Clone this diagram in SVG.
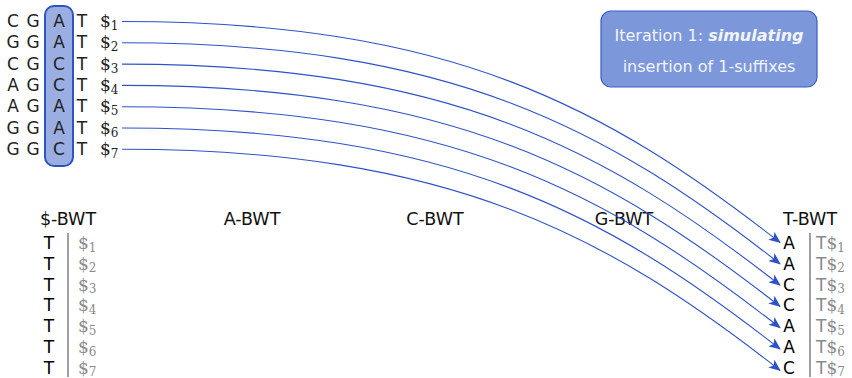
<svg xmlns="http://www.w3.org/2000/svg" width="852" height="378" viewBox="0 0 852 378">
  <style>
    .seq { font-family: "DejaVu Sans", "Liberation Sans", sans-serif; font-size: 17px; fill: #222; text-anchor: middle; }
    .dol { font-family: "DejaVu Serif", "Liberation Serif", serif; font-size: 17px; fill: #222; }
    .sub { font-size: 12px; }
    .hdr { font-family: "DejaVu Sans", "Liberation Sans", sans-serif; font-size: 17.5px; fill: #111; text-anchor: middle; }
    .bwt { font-family: "DejaVu Sans", "Liberation Sans", sans-serif; font-size: 17px; fill: #000; text-anchor: middle; }
    .suf { font-family: "DejaVu Serif", "Liberation Serif", serif; font-size: 17px; fill: #8a8a8a; }
    .sufT { font-family: "DejaVu Sans", "Liberation Sans", sans-serif; font-size: 17px; fill: #8a8a8a; }
    .bar { stroke: #888; stroke-width: 1.6; }
    .note { font-family: "DejaVu Sans", "Liberation Sans", sans-serif; font-size: 16px; fill: #f2f4fb; text-anchor: middle; }
    .conn path { fill: none; stroke: #2f52c8; stroke-width: 1.1; marker-end: url(#arr); }
  </style>
  <defs>
    <marker id="arr" viewBox="0 0 12 10" refX="11" refY="5" markerWidth="12" markerHeight="10" markerUnits="userSpaceOnUse" orient="auto">
      <path d="M0,0 L12,5 L0,10 L3,5 Z" fill="#2f52c8"/>
    </marker>
  </defs>

  <!-- highlighted column of characters being sorted -->
  <g id="column-highlight">
    <rect x="45" y="6" width="28" height="160" rx="9" fill="#9aaee2" stroke="#2c55c4" stroke-width="2"/>
  </g>

  <!-- reads with sentinel symbols -->
  <g id="reads">
    <g id="read1"><text class="seq" x="13" y="27">C</text><text class="seq" x="33" y="27">G</text><text class="seq" x="59" y="27">A</text><text class="seq" x="82" y="27">T</text><text class="dol" x="100" y="27">$<tspan class="sub" dy="3">1</tspan></text></g>
    <g id="read2"><text class="seq" x="13" y="48.3">G</text><text class="seq" x="33" y="48.3">G</text><text class="seq" x="59" y="48.3">A</text><text class="seq" x="82" y="48.3">T</text><text class="dol" x="100" y="48.3">$<tspan class="sub" dy="3">2</tspan></text></g>
    <g id="read3"><text class="seq" x="13" y="69.6">C</text><text class="seq" x="33" y="69.6">G</text><text class="seq" x="59" y="69.6">C</text><text class="seq" x="82" y="69.6">T</text><text class="dol" x="100" y="69.6">$<tspan class="sub" dy="3">3</tspan></text></g>
    <g id="read4"><text class="seq" x="13" y="90.9">A</text><text class="seq" x="33" y="90.9">G</text><text class="seq" x="59" y="90.9">C</text><text class="seq" x="82" y="90.9">T</text><text class="dol" x="100" y="90.9">$<tspan class="sub" dy="3">4</tspan></text></g>
    <g id="read5"><text class="seq" x="13" y="112.2">A</text><text class="seq" x="33" y="112.2">G</text><text class="seq" x="59" y="112.2">A</text><text class="seq" x="82" y="112.2">T</text><text class="dol" x="100" y="112.2">$<tspan class="sub" dy="3">5</tspan></text></g>
    <g id="read6"><text class="seq" x="13" y="133.5">G</text><text class="seq" x="33" y="133.5">G</text><text class="seq" x="59" y="133.5">A</text><text class="seq" x="82" y="133.5">T</text><text class="dol" x="100" y="133.5">$<tspan class="sub" dy="3">6</tspan></text></g>
    <g id="read7"><text class="seq" x="13" y="154.8">G</text><text class="seq" x="33" y="154.8">G</text><text class="seq" x="59" y="154.8">C</text><text class="seq" x="82" y="154.8">T</text><text class="dol" x="100" y="154.8">$<tspan class="sub" dy="3">7</tspan></text></g>
  </g>

  <!-- iteration note -->
  <g id="note">
    <rect x="601" y="11" width="216" height="76" rx="10" fill="#7d98da" stroke="#3a5cc6" stroke-width="1.2"/>
    <text class="note" x="709" y="41">Iteration 1: <tspan font-weight="bold" font-style="italic">simulating</tspan></text>
    <text class="note" x="709" y="72">insertion of 1-suffixes</text>
  </g>

  <!-- partial BWT headers -->
  <g id="headers">
    <text class="hdr" x="68" y="225">$-BWT</text>
    <text class="hdr" x="252" y="225">A-BWT</text>
    <text class="hdr" x="435" y="225">C-BWT</text>
    <text class="hdr" x="624" y="225">G-BWT</text>
    <text class="hdr" x="810" y="225">T-BWT</text>
  </g>

  <!-- $-BWT column -->
  <g id="dollar-bwt">
    <line class="bar" x1="68" y1="233" x2="68" y2="377"/>
    <text class="bwt" x="49" y="249">T</text><text class="suf" x="78" y="249">$<tspan class="sub" dy="2.5">1</tspan></text>
    <text class="bwt" x="49" y="269.8">T</text><text class="suf" x="78" y="269.8">$<tspan class="sub" dy="2.5">2</tspan></text>
    <text class="bwt" x="49" y="290.6">T</text><text class="suf" x="78" y="290.6">$<tspan class="sub" dy="2.5">3</tspan></text>
    <text class="bwt" x="49" y="311.4">T</text><text class="suf" x="78" y="311.4">$<tspan class="sub" dy="2.5">4</tspan></text>
    <text class="bwt" x="49" y="332.2">T</text><text class="suf" x="78" y="332.2">$<tspan class="sub" dy="2.5">5</tspan></text>
    <text class="bwt" x="49" y="353">T</text><text class="suf" x="78" y="353">$<tspan class="sub" dy="2.5">6</tspan></text>
    <text class="bwt" x="49" y="373.8">T</text><text class="suf" x="78" y="373.8">$<tspan class="sub" dy="2.5">7</tspan></text>
  </g>

  <!-- T-BWT column -->
  <g id="t-bwt">
    <line class="bar" x1="810" y1="233" x2="810" y2="377"/>
    <text class="bwt" x="789" y="249">A</text><text class="sufT" x="816" y="249">T<tspan class="suf">$<tspan class="sub" dy="2.5">1</tspan></tspan></text>
    <text class="bwt" x="789" y="269.8">A</text><text class="sufT" x="816" y="269.8">T<tspan class="suf">$<tspan class="sub" dy="2.5">2</tspan></tspan></text>
    <text class="bwt" x="789" y="290.6">C</text><text class="sufT" x="816" y="290.6">T<tspan class="suf">$<tspan class="sub" dy="2.5">3</tspan></tspan></text>
    <text class="bwt" x="789" y="311.4">C</text><text class="sufT" x="816" y="311.4">T<tspan class="suf">$<tspan class="sub" dy="2.5">4</tspan></tspan></text>
    <text class="bwt" x="789" y="332.2">A</text><text class="sufT" x="816" y="332.2">T<tspan class="suf">$<tspan class="sub" dy="2.5">5</tspan></tspan></text>
    <text class="bwt" x="789" y="353">A</text><text class="sufT" x="816" y="353">T<tspan class="suf">$<tspan class="sub" dy="2.5">6</tspan></tspan></text>
    <text class="bwt" x="789" y="373.8">C</text><text class="sufT" x="816" y="373.8">T<tspan class="suf">$<tspan class="sub" dy="2.5">7</tspan></tspan></text>
  </g>

  <!-- each read's suffix inserted into the T-BWT -->
  <g id="connectors" class="conn">
    <path d="M122,21.5 c330,0 485,86 658,221"/>
    <path d="M122,42.8 c330,0 485,86 658,221"/>
    <path d="M122,64.1 c330,0 485,86 658,221"/>
    <path d="M122,85.4 c330,0 485,86 658,221"/>
    <path d="M122,106.7 c330,0 485,86 658,221"/>
    <path d="M122,128 c330,0 485,86 658,221"/>
    <path d="M122,149.3 c330,0 485,86 658,221"/>
  </g>
</svg>
